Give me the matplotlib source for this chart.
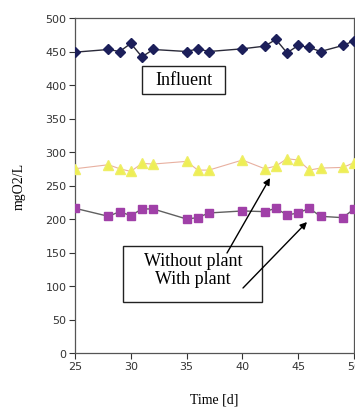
import matplotlib
matplotlib.use("Agg")
import matplotlib.pyplot as plt
from matplotlib.patches import Rectangle, FancyArrowPatch

days = [25, 28, 29, 30, 31, 32, 35, 36, 37, 40, 42, 43, 44, 45, 46, 47, 49, 50]
influent = [449, 453, 450, 462, 442, 453, 450, 454, 450, 454, 458, 468, 448, 459, 456, 450, 459, 466]
without_plant = [275, 281, 275, 271, 283, 282, 286, 273, 273, 288, 275, 279, 290, 288, 273, 276, 277, 284]
with_plant = [216, 204, 211, 205, 215, 215, 200, 202, 209, 212, 211, 216, 206, 209, 216, 204, 202, 215]

x_ticks = [25, 30, 35, 40, 45, 50]
y_ticks = [0, 50, 100, 150, 200, 250, 300, 350, 400, 450, 500]

W, H = 355, 410
fig = plt.figure(figsize=(W / 100, H / 100), dpi=100)
ax = fig.add_axes([75 / W, 1 - 354 / H, (354 - 75) / W, (354 - 19) / H])

ax.plot(days, influent, color="#2a2a3a", lw=1.0, marker="D", ms=5,
        mfc="#1c1f5a", mec="#1c1f5a", zorder=3)
ax.plot(days, without_plant, color="#e8b0a0", lw=0.8, marker="^", ms=7,
        mfc="#eeee55", mec="#eeee66", zorder=3)
ax.plot(days, with_plant, color="#606060", lw=1.0, marker="s", ms=5.5,
        mfc="#a040a8", mec="#a040a8", zorder=3)

ax.set_xlim(25, 50)
ax.set_ylim(0, 500)
ax.set_xticks(x_ticks)
ax.set_yticks(y_ticks)
ax.tick_params(axis="both", labelsize=8, colors="#333333", length=4, width=0.8, pad=2)
for s in ax.spines.values():
    s.set_color("#555555")
    s.set_linewidth(0.9)

fig.text(19 / W, 1 - 186 / H, "mgO2/L", rotation=90, ha="center", va="center",
         fontsize=10, family="Liberation Serif")
fig.text(214 / W, 1 - 400 / H, "Time [d]", ha="center", va="center",
         fontsize=10, family="Liberation Serif")

# Influent box
fig.patches.append(Rectangle((142 / W, 1 - 95 / H), 83 / W, 28 / H, transform=fig.transFigure,
                             fc="white", ec="#222222", lw=1.0, zorder=5))
fig.text(183.5 / W, 1 - 81 / H, "Influent", ha="center", va="center",
         fontsize=13, family="Liberation Serif", zorder=6)

# Without/With plant box
fig.patches.append(Rectangle((123 / W, 1 - 303 / H), 139 / W, 56 / H, transform=fig.transFigure,
                             fc="white", ec="#222222", lw=1.0, zorder=5))
fig.text(193 / W, 1 - 261 / H, "Without plant", ha="center", va="center",
         fontsize=13, family="Liberation Serif", zorder=6)
fig.text(193 / W, 1 - 279 / H, "With plant", ha="center", va="center",
         fontsize=13, family="Liberation Serif", zorder=6)

for (x0, y0), (x1, y1) in [((227, 254), (270, 179)), ((243, 289), (307, 223))]:
    arr = FancyArrowPatch((x0 / W, 1 - y0 / H), (x1 / W, 1 - y1 / H),
                          transform=fig.transFigure, arrowstyle="-|>", color="black",
                          lw=1.0, mutation_scale=10, shrinkA=0, shrinkB=0, zorder=7)
    fig.patches.append(arr)

fig.savefig("out.png", dpi=100)
